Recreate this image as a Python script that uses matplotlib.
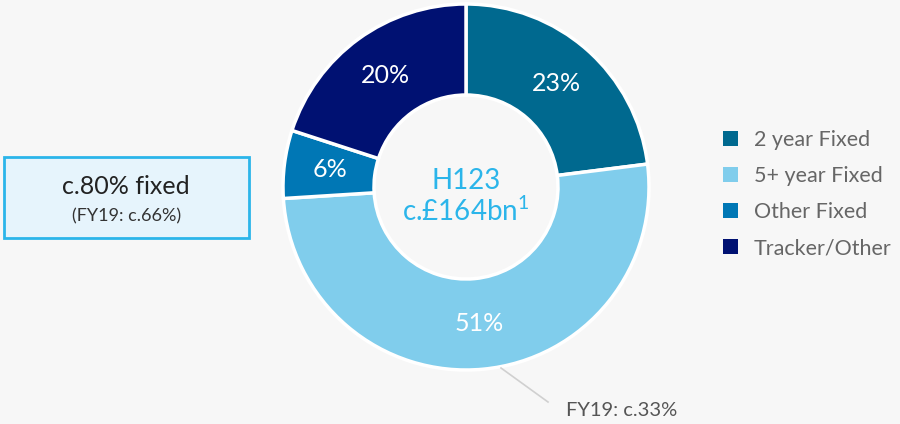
import matplotlib
matplotlib.use("Agg")
import matplotlib.pyplot as plt
from matplotlib.patches import Patch, Rectangle
import numpy as np

categories = ["2 year Fixed", "5+ year Fixed", "Other Fixed", "Tracker/Other"]
values = [23, 51, 6, 20]
labels_pct = ["23%", "51%", "6%", "20%"]
colors = ["#00698F", "#80CDEC", "#0077B5", "#001172"]
center_lines = ["H123", "c.£164bn$^{1}$"]
box_main = "c.80% fixed"
box_sub = "(FY19: c.66%)"
note = "FY19: c.33%"

plt.rcParams['font.family'] = ['Lato', 'DejaVu Sans']
plt.rcParams['mathtext.default'] = 'regular'
BG = "#F7F7F7"
W, H = 900, 424
fig = plt.figure(figsize=(9, 4.24), dpi=100, facecolor=BG)
ax = fig.add_axes([0, 0, 1, 1])
ax.set_facecolor(BG)

cx, cy = 466, H - 187
R, r = 183, 92
wedges, _ = ax.pie(values, colors=colors, startangle=90, counterclock=False,
                   center=(cx, cy), radius=R, frame=True,
                   wedgeprops=dict(width=R - r, edgecolor='white', linewidth=2.5))
ax.set_xlim(0, W)
ax.set_ylim(0, H)
ax.set_aspect('equal')
ax.axis('off')

start = 90.0
rm = (R + r) / 2
for v, lab in zip(values, labels_pct):
    ang = np.deg2rad(start - v * 360 / 100 / 2)
    ax.text(cx + rm * np.cos(ang), cy + rm * np.sin(ang), lab, color='white',
            fontsize=18, ha='center', va='center')
    start -= v * 360 / 100

ax.text(cx, H - 181, center_lines[0], color="#2BB5EA", fontsize=20, ha='center', va='center')
ax.text(cx, H - 211, center_lines[1], color="#2BB5EA", fontsize=20, ha='center', va='center')

# box
ax.add_patch(Rectangle((4, H - 238), 245, 81, facecolor="#E6F4FC", edgecolor="#2BB5EA", linewidth=2))
ax.text(126, H - 186, box_main, fontsize=18, color="#222222", ha='center', va='center')
ax.text(127, H - 216, box_sub, fontsize=13, color="#333333", ha='center', va='center')

# note
ax.plot([501, 548], [H - 368, H - 402], color="#D0D0D0", linewidth=1.2)
ax.text(566, H - 411, note, fontsize=14.5, color="#555555", ha='left', va='center')

handles = [Patch(facecolor=c, edgecolor='none') for c in colors]
leg = ax.legend(handles, categories, loc='upper left', bbox_to_anchor=(714 / W, 1 - 121 / H),
                frameon=False, labelcolor="#666666", handlelength=0.7,
                handleheight=0.7, handletextpad=0.75, labelspacing=0.75, borderaxespad=0,
                prop={'size': 15.5})

fig.savefig("out.png", dpi=100, facecolor=BG)
